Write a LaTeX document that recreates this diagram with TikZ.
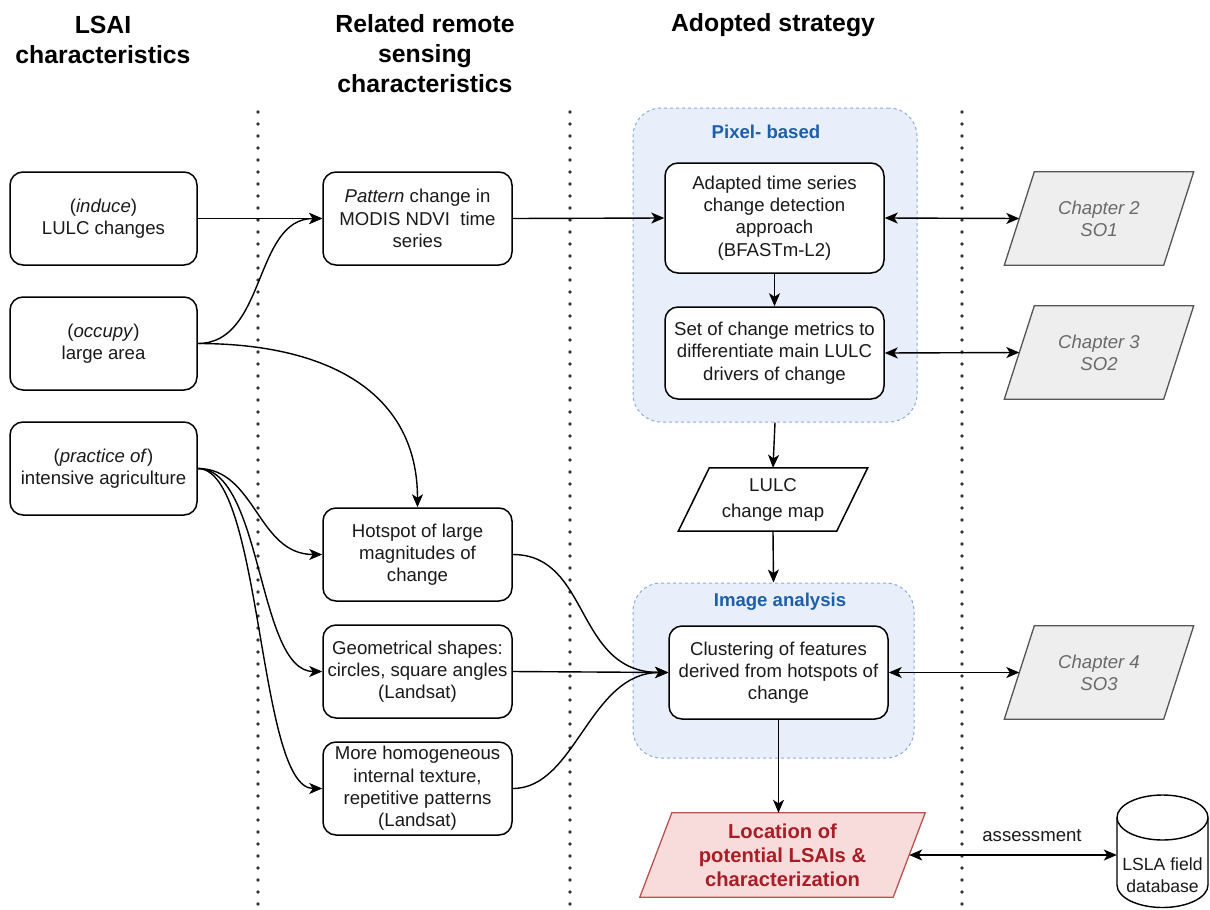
\documentclass[tikz,border=0pt]{standalone}
\usepackage{fontspec}
\setmainfont{Liberation Sans}
\usetikzlibrary{arrows.meta}
\pgfdeclarelayer{bg}
\pgfsetlayers{bg,main}
\definecolor{contfill}{HTML}{E8EFFB}
\definecolor{contline}{HTML}{8AACDB}
\definecolor{contlbl}{HTML}{1F5FAA}
\definecolor{grayfill}{HTML}{EEEEEE}
\definecolor{grayline}{HTML}{555555}
\definecolor{graytext}{HTML}{6A6A6A}
\definecolor{redfill}{HTML}{F8DCDC}
\definecolor{redline}{HTML}{B85450}
\definecolor{redtext}{HTML}{A81E26}
\definecolor{txt}{HTML}{1A1A1A}
\newcommand\bodyf{\fontsize{18.6pt}{22.3pt}\selectfont}
\newcommand\hdrf{\fontsize{24.8pt}{30pt}\selectfont\bfseries}
\newcommand\paradraw[3]{%
\begin{pgfonlayer}{bg}
\draw[#2] ([xshift=-#3]#1.south west) -- ([xshift=#3]#1.north west) -- ([xshift=#3]#1.north east) -- ([xshift=-#3]#1.south east) -- cycle;
\end{pgfonlayer}}
\tikzset{
 hdr/.style={align=center, font=\hdrf, text=black, inner sep=0pt},
 lsbox/.style={draw, line width=1.5pt, rounded corners=13pt, fill=white, minimum width=187pt, minimum height=93pt, align=center, font=\bodyf, text=txt, inner sep=2pt},
 cont/.style={draw=contline, dashed, line width=1pt, fill=contfill, rounded corners=28pt},
 contlab/.style={font=\bodyf\bfseries, text=contlbl, inner sep=0pt},
 ptext/.style={inner sep=0pt, align=center, font=\bodyf, text=txt},
 pgray/.style={draw=grayline, fill=grayfill, line width=1.3pt},
 pwhite/.style={draw=black, fill=white, line width=1.5pt},
 pred/.style={draw=redline, fill=redfill, line width=1.3pt},
 conn/.style={line width=1.4pt, ->},
 bidir/.style={line width=1.4pt, <->},
 dotline/.style={line width=3.6pt, line cap=round, dash pattern=on 0pt off 12pt, color=black!80},
}
\begin{document}
\begin{tikzpicture}[x=1pt,y=-1pt, >={Stealth[length=13pt,width=11pt,inset=3.5pt]}]
\useasboundingbox (0,0) rectangle (1210,910);
% headers
\node[hdr] (h1) at (103,40) {LSAI\\characteristics};
\node[hdr] (h2) at (425,54) {Related remote\\sensing\\characteristics};
\node[hdr] (h3) at (773,25) {Adopted strategy};
% dotted separators
\draw[dotline] (258,112) -- (258,905);
\draw[dotline] (570,112) -- (570,905);
\draw[dotline] (962,112) -- (962,905);
% containers
\node[cont, minimum width=284pt, minimum height=314pt] (pix) at (775,265) {};
\node[contlab] (pixl) at (766,132) {Pixel- based};
\node[cont, minimum width=281pt, minimum height=175pt] (img) at (773.5,670.5) {};
\node[contlab] (imgl) at (780,602) {Image analysis};
% left column
\node[lsbox] (ind) at (103.5,218.5) {(\textit{induce})\\LULC changes};
\node[lsbox] (occ) at (103.5,343.5) {(\textit{occupy})\\large area};
\node[lsbox] (pra) at (103.5,468.5) {(\textit{practice of})\\intensive agriculture};
% middle column
\node[lsbox, minimum width=189pt] (pat) at (417.5,218.5) {\textit{Pattern} change in\\MODIS NDVI\ \ time\\series};
\node[lsbox, minimum width=189pt] (hot) at (417.5,554.5) {Hotspot of large\\magnitudes of\\change};
\node[lsbox, minimum width=189pt] (geo) at (417.5,671.5) {Geometrical shapes:\\circles, square angles\\(Landsat)};
\node[lsbox, minimum width=189pt] (mor) at (417.5,788.5) {More homogeneous\\internal texture,\\repetitive patterns\\(Landsat)};
% strategy column
\node[lsbox, minimum width=219pt, minimum height=110pt] (ada) at (774.5,218) {Adapted time series\\change detection\\approach\\(BFASTm-L2)};
\node[lsbox, minimum width=219pt, minimum height=92pt] (set) at (774.5,353) {Set of change metrics to\\differentiate main LULC\\drivers of change};
\node[lsbox, minimum width=219pt, minimum height=93pt] (clu) at (778.5,672.5) {Clustering of features\\derived from hotspots of\\change};
\node[ptext, minimum width=158pt, minimum height=63pt] (lulc) at (773,499.5) {LULC\\[3.7pt]change map};
\paradraw{lulc}{pwhite}{15.5pt}
\node[ptext, minimum width=253pt, minimum height=84pt, font=\fontsize{20.2pt}{24pt}\selectfont\bfseries, text=redtext] (loc) at (782.5,855) {Location of\\potential LSAIs \&\\characterization};
\paradraw{loc}{pred}{16pt}
% chapters
\node[ptext, minimum width=159pt, minimum height=93pt, text=graytext, font=\bodyf\itshape] (ch2) at (1099,218.5) {Chapter 2\\SO1};
\paradraw{ch2}{pgray}{15pt}
\node[ptext, minimum width=159pt, minimum height=93pt, text=graytext, font=\bodyf\itshape] (ch3) at (1099,352.5) {Chapter 3\\SO2};
\paradraw{ch3}{pgray}{15pt}
\node[ptext, minimum width=159pt, minimum height=93pt, text=graytext, font=\bodyf\itshape] (ch4) at (1099,672.5) {Chapter 4\\SO3};
\paradraw{ch4}{pgray}{15pt}
% database cylinder
\draw[line width=1.4pt, fill=white] (1117,817.5) -- (1117,885) arc[start angle=180, end angle=0, x radius=45.5, y radius=22.5] -- (1208,817.5);
\draw[line width=1.4pt] (1162.5,817.5) ellipse [x radius=45.5, y radius=22.5];
\node[ptext, minimum width=91pt, font=\fontsize{17.6pt}{22.3pt}\selectfont] (db) at (1162.5,875) {LSLA field\\database};
\node[ptext] (asl) at (1032,836) {assessment};
% connectors
\draw[conn] (ind.east) -- (pat.west);
\draw[conn] (occ.east) to[out=0,in=180] (pat.west);
\draw[conn] (occ.east) .. controls +(130,0) and +(0,-115) .. (hot.north);
\draw[conn] (pra.east) .. controls +(58,0) and +(-65,0) .. (hot.west);
\draw[conn] (pra.east) .. controls +(65,0) and +(-65,0) .. (geo.west);
\draw[conn] (pra.east) .. controls +(65,0) and +(-65,0) .. (mor.west);
\draw[conn] (pat.east) -- (ada.west);
\draw[conn] (ada.south) -- (set.north);
\draw[bidir] (ada.east) -- (ch2.west);
\draw[bidir] (set.east) -- (ch3.west);
\draw[conn] (pix.south) -- (lulc.north);
\draw[conn] (lulc.south) -- (img.north);
\draw[conn] (hot.east) .. controls +(78,0) and +(-94,0) .. (clu.west);
\draw[conn] (geo.east) -- (clu.west);
\draw[conn] (mor.east) .. controls +(63,0) and +(-79,0) .. (clu.west);
\draw[bidir] (clu.east) -- (ch4.west);
\draw[conn] (clu.south) -- (clu.south |- loc.north);
\draw[bidir] (loc.east) -- (loc.east -| db.west);
\end{tikzpicture}
\end{document}
